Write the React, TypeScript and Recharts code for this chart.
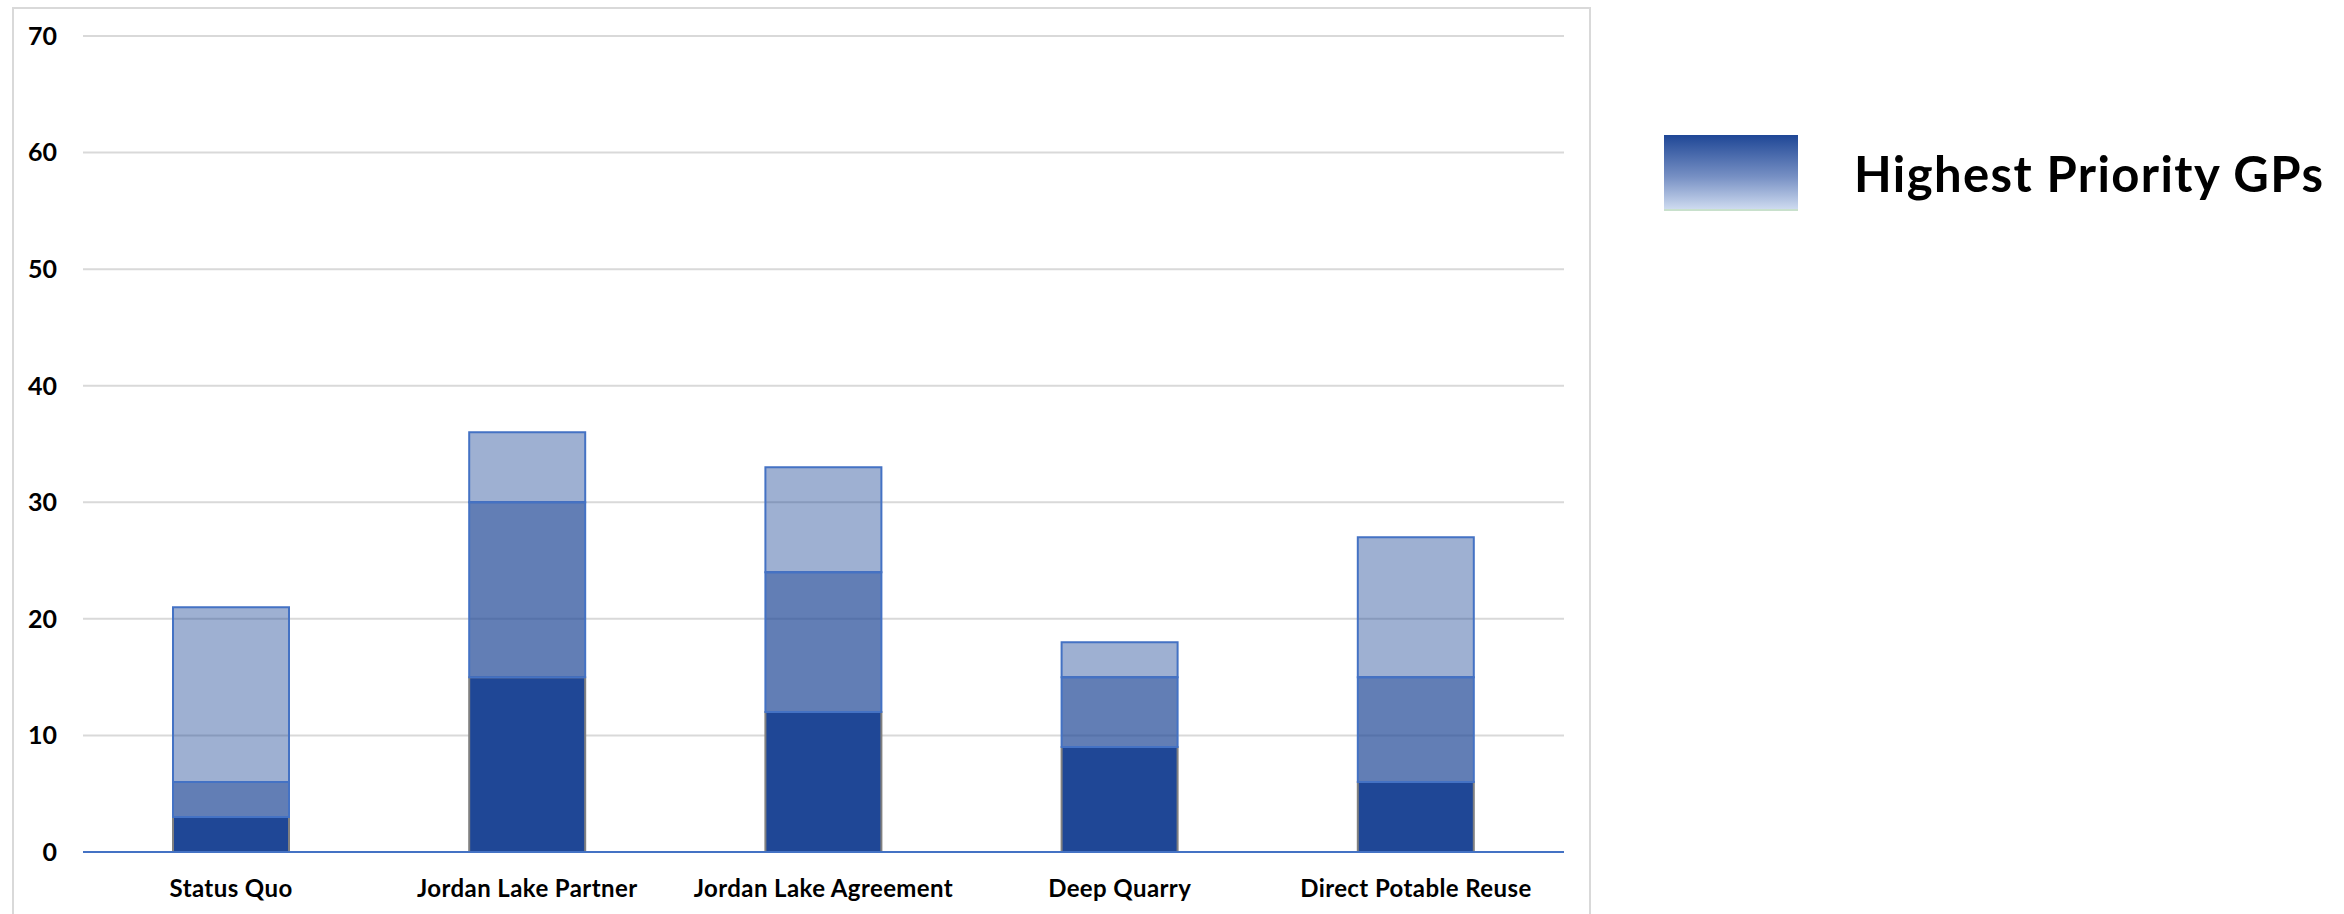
import React from 'react';
import { BarChart, Bar, XAxis, YAxis, CartesianGrid } from 'recharts';

const categories = ['Status Quo', 'Jordan Lake Partner', 'Jordan Lake Agreement', 'Deep Quarry', 'Direct Potable Reuse'];
// stacked segments, bottom to top
const highest = [3, 15, 12, 9, 6];
const middle = [3, 15, 12, 6, 9];
const upper = [15, 6, 9, 3, 12];
const yTicks = [0, 10, 20, 30, 40, 50, 60, 70];

const data = categories.map((name, i) => ({
  name,
  highest: highest[i],
  middle: middle[i],
  upper: upper[i],
}));

const FONT = 'Lato, "Open Sans", sans-serif';

const LegendBox = () => (
  <div style={{ position: 'absolute', left: 1664, top: 135, display: 'flex', alignItems: 'center' }}>
    <svg width={134} height={76} style={{ display: 'block' }}>
      <defs>
        <linearGradient id="legGrad" x1="0" y1="0" x2="0" y2="1">
          <stop offset="0%" stopColor="#1F4796" />
          <stop offset="55%" stopColor="#7790C4" />
          <stop offset="100%" stopColor="#D3DFF2" />
        </linearGradient>
      </defs>
      <rect x={0} y={0} width={134} height={76} fill="url(#legGrad)" />
      <rect x={0} y={74} width={134} height={2} fill="#C8E0CC" />
    </svg>
    <span
      style={{
        marginLeft: 56,
        fontFamily: FONT,
        fontWeight: 700,
        fontSize: 49,
        letterSpacing: 1.4,
        color: '#000',
        whiteSpace: 'nowrap',
      }}
    >
      Highest Priority GPs
    </span>
  </div>
);

export default function App() {
  return (
    <div style={{ position: 'absolute', left: 0, top: 0, width: 2344, height: 914, background: '#fff', overflow: 'hidden' }}>
      <div
        style={{
          position: 'absolute',
          left: 12,
          top: 7,
          width: 1575,
          height: 920,
          borderLeft: '2px solid #D9D9D9',
          borderTop: '2px solid #D9D9D9',
          borderRight: '2px solid #D9D9D9',
        }}
      />
      <BarChart
        width={1600}
        height={914}
        data={data}
        margin={{ top: 36, right: 36, bottom: 0, left: 0 }}
        barSize={116}
        style={{ position: 'absolute', left: 0, top: 0 }}
      >
        <CartesianGrid vertical={false} stroke="#D9D9D9" strokeWidth={2} />
        <XAxis
          dataKey="name"
          height={62}
          tickLine={false}
          axisLine={{ stroke: '#4472C4', strokeWidth: 2 }}
          tickMargin={22}
          tick={{ fill: '#000', fontSize: 24, fontWeight: 700, fontFamily: FONT, letterSpacing: 0.4 }}
          interval={0}
        />
        <YAxis
          width={83}
          domain={[0, 70]}
          ticks={yTicks}
          axisLine={false}
          tickLine={false}
          tickMargin={20}
          tick={{ fill: '#000', fontSize: 25, fontWeight: 700, fontFamily: FONT }}
        />
        <Bar dataKey="highest" stackId="a" fill="#1F4796" stroke="#808080" strokeWidth={2} isAnimationActive={false} />
        <Bar dataKey="middle" stackId="a" fill="#1F4796" fillOpacity={0.7} stroke="#4472C4" strokeWidth={2} isAnimationActive={false} />
        <Bar dataKey="upper" stackId="a" fill="#1F4796" fillOpacity={0.43} stroke="#4472C4" strokeWidth={2} isAnimationActive={false} />
      </BarChart>
      <LegendBox />
    </div>
  );
}
